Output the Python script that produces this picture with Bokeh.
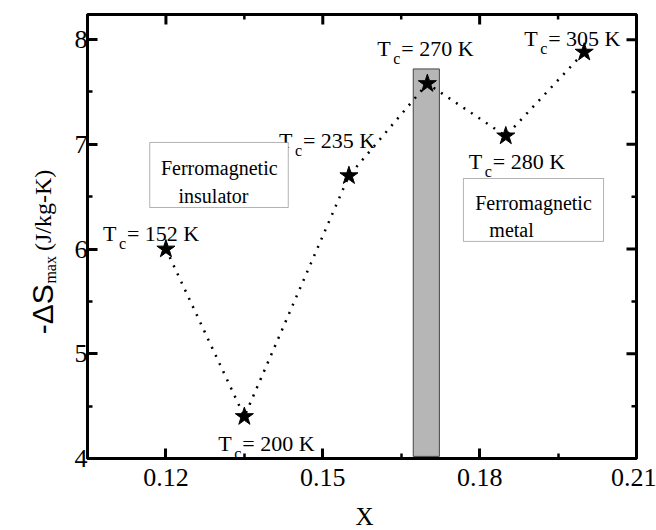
import math
from bokeh.plotting import figure
from bokeh.layouts import row, column
from bokeh.models import Range1d, FixedTicker, LinearAxis, BoxAnnotation, Label, ColumnDataSource
from bokeh.core.properties import value
from bokeh.embed import file_html
from bokeh.resources import INLINE

# ---- data ----
x_vals = [0.12, 0.135, 0.155, 0.17, 0.185, 0.20]
ds_max = [6.0, 4.4, 6.7, 7.58, 7.08, 7.88]
tc_vals = ["152 K", "200 K", "235 K", "270 K", "280 K", "305 K"]

bar_left = [0.1673]
bar_right = [0.1723]
bar_bottom = [4.02]
bar_top = [7.72]

x_major = [0.12, 0.15, 0.18, 0.21]
x_minor = [0.135, 0.165, 0.195]
y_major = [4, 5, 6, 7, 8]
y_minor = [4.5, 5.5, 6.5, 7.5]

X_MIN, X_MAX = 0.105, 0.21
Y_MIN, Y_MAX = 4.0, 8.24

# ---- layout constants (pixel offsets of Tc labels relative to their star) ----
tc_dx = [-63, -26, -70, -50, -37, -60]
tc_dy = [-16, 27, -35, -35, 26, -14]

SERIF = "Liberation Serif"
SANS = "Liberation Sans"
W, H = 656, 530
LEFT_W = 60
BOTTOM_H = 40

p = figure(width=W - LEFT_W, height=H - BOTTOM_H, output_backend="svg", toolbar_location=None,
           x_range=Range1d(X_MIN, X_MAX), y_range=Range1d(Y_MIN, Y_MAX),
           min_border_left=87 - LEFT_W, min_border_right=20, min_border_top=14,
           min_border_bottom=72 - BOTTOM_H,
           x_axis_location=None, y_axis_location=None)
p.grid.visible = False
p.outline_line_color = "black"
p.outline_line_width = 3
p.background_fill_color = "white"
p.border_fill_color = "white"

def style_axis(ax, ticks, minor):
    ax.ticker = FixedTicker(ticks=ticks, minor_ticks=minor)
    ax.axis_line_width = 3
    ax.axis_line_color = "black"
    ax.major_tick_in = 10
    ax.major_tick_out = 0
    ax.minor_tick_in = 5
    ax.minor_tick_out = 0
    ax.major_tick_line_width = 3
    ax.minor_tick_line_width = 2.5
    ax.major_tick_line_color = "black"
    ax.minor_tick_line_color = "black"
    ax.major_label_text_font = SERIF
    ax.major_label_text_font_size = "26px"
    ax.major_label_text_color = "black"

xb = LinearAxis(); style_axis(xb, x_major, x_minor); xb.major_label_standoff = 10
yl = LinearAxis(); style_axis(yl, y_major, y_minor); yl.major_label_standoff = 0
p.add_layout(xb, "below")
p.add_layout(yl, "left")

# mirrored inward ticks on the top and right edges (half of each dash is clipped by the frame)
p.scatter(x_major, [Y_MAX] * len(x_major), marker="dash", angle=math.pi / 2, size=20,
          line_color="black", line_width=3)
p.scatter(x_minor, [Y_MAX] * len(x_minor), marker="dash", angle=math.pi / 2, size=10,
          line_color="black", line_width=2.5)
p.scatter([X_MAX] * len(y_major), y_major, marker="dash", size=20, line_color="black", line_width=3)
p.scatter([X_MAX] * len(y_minor), y_minor, marker="dash", size=10, line_color="black", line_width=2.5)

# gray bar
p.quad(left=bar_left, right=bar_right, bottom=bar_bottom, top=bar_top,
       fill_color="#b6b6b6", line_color="#444444", line_width=1)

# boxes
p.add_layout(BoxAnnotation(left=0.1169, right=0.1434, bottom=6.397, top=7.018,
                           fill_color="white", fill_alpha=1.0, line_color="black", line_width=1, level="annotation"))
p.add_layout(BoxAnnotation(left=0.1769, right=0.2037, bottom=6.073, top=6.674,
                           fill_color="white", fill_alpha=1.0, line_color="black", line_width=1, level="annotation"))

src = ColumnDataSource(dict(x=x_vals, y=ds_max, tc=["= " + t for t in tc_vals],
                            dx=tc_dx, dy=tc_dy,
                            dxc=[d + 16 for d in tc_dx], dyc=[d + 10 for d in tc_dy],
                            dxe=[d + 24 for d in tc_dx]))

p.line("x", "y", source=src, line_color="black", line_width=2.5, line_dash="2 7")
p.scatter("x", "y", source=src, marker="star", size=19, fill_color="black", line_color="black")

p.text("x", "y", text=value("T"), source=src, x_offset="dx", y_offset="dy", text_font=value(SERIF),
       text_font_size="22px", text_baseline="alphabetic", text_align="left", text_color="black")
p.text("x", "y", text=value("c"), source=src, x_offset="dxc", y_offset="dyc", text_font=value(SERIF),
       text_font_size="16px", text_baseline="alphabetic", text_align="left", text_color="black")
p.text("x", "y", text="tc", source=src, x_offset="dxe", y_offset="dy", text_font=value(SERIF),
       text_font_size="22px", text_baseline="alphabetic", text_align="left", text_color="black")

def lab(x, y, text, size, font=SERIF):
    p.add_layout(Label(x=x, y=y, text=text, text_font=font, text_font_size=size,
                       text_align="center", text_baseline="alphabetic",
                       text_color="black", level="overlay"))

# box texts
lab(0.1302, 6.770, "Ferromagnetic", "20px")
lab(0.1291, 6.502, "insulator", "20px")
lab(0.1903, 6.436, "Ferromagnetic", "20px")
lab(0.1861, 6.178, "metal", "20px")

def strip(width, height):
    s = figure(width=width, height=height, output_backend="svg", toolbar_location=None,
               x_range=Range1d(0, width), y_range=Range1d(height, 0), min_border=0,
               x_axis_location=None, y_axis_location=None)
    s.grid.visible = False
    s.outline_line_color = None
    s.background_fill_color = "white"
    s.border_fill_color = "white"
    return s

# ---- y-axis title in a narrow strip to the left (page pixel coordinates) ----
t = strip(LEFT_W, H - BOTTOM_H)
title_parts = ["-ΔS", "max", "(J/kg-K)"]
title_fonts = [SANS, SERIF, SERIF]
title_sizes = ["30px", "16px", "24px"]
title_x = [42, 50, 42]
title_y = [353, 297, 261]
for txt, f, s, xx, yy in zip(title_parts, title_fonts, title_sizes, title_x, title_y):
    t.text(x=[xx], y=[yy], text=[txt], angle=math.pi / 2, text_font=value(f), text_font_size=s,
           text_align="left", text_baseline="alphabetic", text_color="black")

# ---- x-axis title in a strip at the bottom ----
b = strip(W, BOTTOM_H)
b.text(x=[364], y=[26], text=["X"], text_font=value(SERIF), text_font_size="25px",
       text_align="center", text_baseline="alphabetic", text_color="black")

layout = column(row(t, p, spacing=0), b, spacing=0)
open("out.html", "w").write(file_html(layout, INLINE))
